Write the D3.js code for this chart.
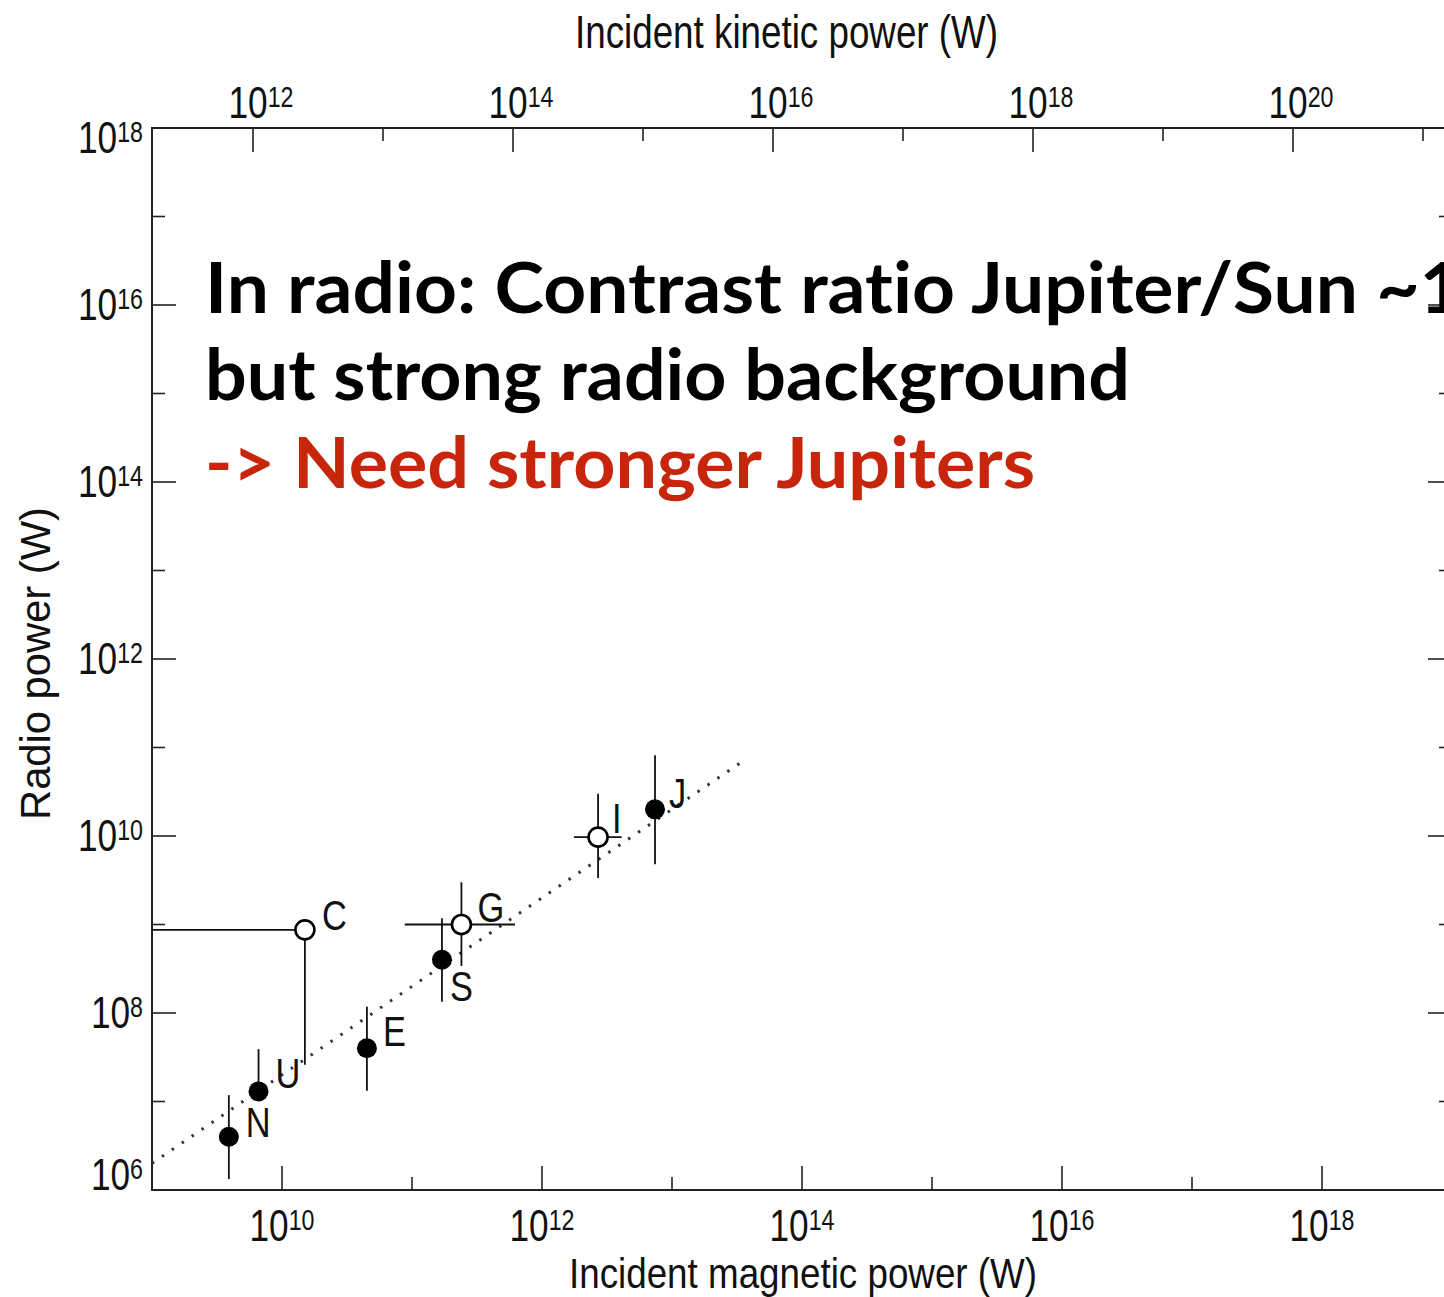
<!DOCTYPE html>
<html>
<head>
<meta charset="utf-8">
<script src="https://cdn.jsdelivr.net/npm/d3@7"></script>
<style>
  html, body { margin: 0; padding: 0; background: #fff; overflow: hidden; }
  svg { display: block; }
</style>
</head>
<body>
<svg id="chart" width="1444" height="1297"></svg>
<script>
// ---- Data: planets and satellites (radio power vs incident magnetic power) ----
const bodies        = ["N", "U", "E", "S", "C", "G", "I", "J"];
const magneticPower = [3.9e9, 6.6e9, 4.5e10, 1.7e11, 1.5e10, 2.4e11, 2.7e12, 7.4e12];
const radioPower    = [4.0e6, 1.3e7, 4.0e7, 4.0e8, 8.7e8, 1.0e9, 9.7e9, 2.0e10];
const radioLow      = [1.33e6, 1.3e7, 1.32e7, 1.34e8, 2.6e7, 3.4e8, 3.35e9, 4.8e9];
const radioHigh     = [1.18e7, 3.9e7, 1.18e8, 1.18e9, 8.7e8, 3.0e9, 3.0e10, 8.2e10];
const magneticLow   = [null, null, null, null, 1e8, 8.8e10, 1.76e12, null];
const magneticHigh  = [null, null, null, null, 1.5e10, 6.2e11, 4.1e12, null];
const openMarker    = [false, false, false, false, true, true, true, false];

// Radio-magnetic scaling law: P_radio = 2e-3 * P_magnetic
const fitCoefficient = 2e-3;
const fitRange = [1e9, 3.6e13];

// Axis tick exponents
const magneticExponents = d3.range(9, 20);   // 10^9 .. 10^19
const kineticExponents  = d3.range(12, 22);  // 10^12 .. 10^21
const radioExponents    = d3.range(6, 19);   // 10^6 .. 10^18

// Annotation text
const noteLines = [
  "In radio: Contrast ratio Jupiter/Sun ~1",
  "but strong radio background",
  "-> Need stronger Jupiters"
];

// ---- Layout ----
const plot = { left: 152, top: 128, right: 1452, bottom: 1190 };
const majorTick = 24, minorTick = 13;
const axisFont = "'Liberation Sans', Arial, Helvetica, sans-serif";
const squeeze = 0.8;

const svg = d3.select("#chart");

const x = d3.scaleLog().domain([1e9, 1e19]).range([plot.left, plot.right]);
const xTop = d3.scaleLog().domain([Math.pow(10, 11.223), Math.pow(10, 21.223)]).range([plot.left, plot.right]);
const y = d3.scaleLog().domain([1e6, 1e18]).range([plot.bottom, plot.top]);

svg.append("clipPath").attr("id", "plotClip")
  .append("rect")
  .attr("x", plot.left).attr("y", plot.top)
  .attr("width", plot.right - plot.left).attr("height", plot.bottom - plot.top);

// Frame
svg.append("rect")
  .attr("x", plot.left).attr("y", plot.top)
  .attr("width", plot.right - plot.left).attr("height", plot.bottom - plot.top)
  .attr("fill", "none").attr("stroke", "#222").attr("stroke-width", 2);

const ticks = svg.append("g").attr("stroke", "#222").attr("stroke-width", 1.6);

// Bottom axis (magnetic), ticks point inward
magneticExponents.forEach(e => {
  const px = x(Math.pow(10, e));
  const len = e % 2 === 0 ? majorTick : minorTick;
  ticks.append("line").attr("x1", px).attr("x2", px)
    .attr("y1", plot.bottom).attr("y2", plot.bottom - len);
});
// Top axis (kinetic)
kineticExponents.forEach(e => {
  const px = xTop(Math.pow(10, e));
  const len = e % 2 === 0 ? majorTick : minorTick;
  ticks.append("line").attr("x1", px).attr("x2", px)
    .attr("y1", plot.top).attr("y2", plot.top + len);
});
// Left and right axes (radio)
radioExponents.forEach(e => {
  const py = y(Math.pow(10, e));
  const len = e % 2 === 0 ? majorTick : minorTick;
  ticks.append("line").attr("x1", plot.left).attr("x2", plot.left + len)
    .attr("y1", py).attr("y2", py);
  ticks.append("line").attr("x1", plot.right).attr("x2", plot.right - len)
    .attr("y1", py).attr("y2", py);
});

// Power-of-ten label: "10" with a raised exponent, horizontally condensed
function powerLabel(g, px, py, exponent, anchor) {
  const t = g.append("g")
    .attr("transform", `translate(${px},${py}) scale(${squeeze},1)`)
    .append("text")
    .attr("font-family", axisFont)
    .attr("font-size", 44)
    .attr("fill", "#111")
    .attr("text-anchor", anchor);
  t.append("tspan").text("10");
  t.append("tspan").attr("font-size", 29).attr("dy", -11).text(exponent);
}

const labels = svg.append("g");
magneticExponents.filter(e => e % 2 === 0 && e >= 10 && e <= 18).forEach(e => {
  powerLabel(labels, x(Math.pow(10, e)), 1241, e, "middle");
});
kineticExponents.filter(e => e % 2 === 0 && e <= 20).forEach(e => {
  powerLabel(labels, xTop(Math.pow(10, e)) + 8, 118, e, "middle");
});
radioExponents.filter(e => e % 2 === 0).forEach(e => {
  let base = y(Math.pow(10, e)) + 15;
  base = Math.max(base, plot.top + 25);
  base = Math.min(base, plot.bottom);
  powerLabel(labels, 143, base, e, "end");
});

// Axis titles
svg.append("text")
  .attr("x", 575).attr("y", 48)
  .attr("font-family", axisFont).attr("font-size", 46).attr("fill", "#111")
  .attr("textLength", 423).attr("lengthAdjust", "spacingAndGlyphs")
  .text("Incident kinetic power (W)");
svg.append("text")
  .attr("x", 569).attr("y", 1288)
  .attr("font-family", axisFont).attr("font-size", 43).attr("fill", "#111")
  .attr("textLength", 468).attr("lengthAdjust", "spacingAndGlyphs")
  .text("Incident magnetic power (W)");
svg.append("text")
  .attr("transform", "translate(50,820) rotate(-90)")
  .attr("font-family", axisFont).attr("font-size", 42).attr("fill", "#111")
  .attr("textLength", 313).attr("lengthAdjust", "spacingAndGlyphs")
  .text("Radio power (W)");

// ---- Data layer ----
const layer = svg.append("g").attr("clip-path", "url(#plotClip)");

// Scaling law (dotted)
layer.append("line")
  .attr("x1", x(fitRange[0])).attr("y1", y(fitCoefficient * fitRange[0]))
  .attr("x2", x(fitRange[1])).attr("y2", y(fitCoefficient * fitRange[1]))
  .attr("stroke", "#333").attr("stroke-width", 3)
  .attr("stroke-dasharray", "2.5,9.5");

const rows = bodies.map((name, i) => ({
  name,
  mag: magneticPower[i], radio: radioPower[i],
  rLo: radioLow[i], rHi: radioHigh[i],
  mLo: magneticLow[i], mHi: magneticHigh[i],
  open: openMarker[i]
}));

// Error bars
const bars = layer.append("g").attr("stroke", "#111").attr("stroke-width", 1.8);
rows.forEach(d => {
  bars.append("line")
    .attr("x1", x(d.mag)).attr("x2", x(d.mag))
    .attr("y1", y(d.rLo)).attr("y2", y(d.rHi));
  if (d.mLo !== null) {
    bars.append("line")
      .attr("x1", x(d.mLo)).attr("x2", x(d.mHi))
      .attr("y1", y(d.radio)).attr("y2", y(d.radio));
  }
});

// Markers: filled = planets, open = satellites
layer.append("g").selectAll("circle")
  .data(rows).join("circle")
  .attr("cx", d => x(d.mag)).attr("cy", d => y(d.radio))
  .attr("r", d => d.open ? 9.5 : 10)
  .attr("fill", d => d.open ? "#fff" : "#000")
  .attr("stroke", "#000")
  .attr("stroke-width", d => d.open ? 2.6 : 0);

// Point labels (offsets from marker centre)
const labelOffset = {
  N: [17, 0], U: [17, -3], E: [16, -2], S: [8, 41],
  C: [17, 0], G: [16, -3], I: [14, -4], J: [14, -1]
};
rows.forEach(d => {
  const [dx, dy] = labelOffset[d.name];
  svg.append("g")
    .attr("transform", `translate(${x(d.mag) + dx},${y(d.radio) + dy}) scale(${squeeze},1)`)
    .append("text")
    .attr("font-family", axisFont).attr("font-size", 43).attr("fill", "#111")
    .text(d.name);
});

// ---- Annotation ----
const noteFont = "Lato, 'Open Sans', sans-serif";
const noteBaselines = [313, 400, 488];
const noteWidths = [1258, 925, 830];
const noteColors = ["#000", "#000", "#c8260c"];
noteLines.forEach((line, i) => {
  svg.append("text")
    .attr("x", 205).attr("y", noteBaselines[i])
    .attr("font-family", noteFont).attr("font-weight", 700)
    .attr("font-size", 70).attr("fill", noteColors[i])
    .style("font-variant-ligatures", "none")
    .attr("textLength", noteWidths[i]).attr("lengthAdjust", "spacingAndGlyphs")
    .text(line);
});
</script>
</body>
</html>
